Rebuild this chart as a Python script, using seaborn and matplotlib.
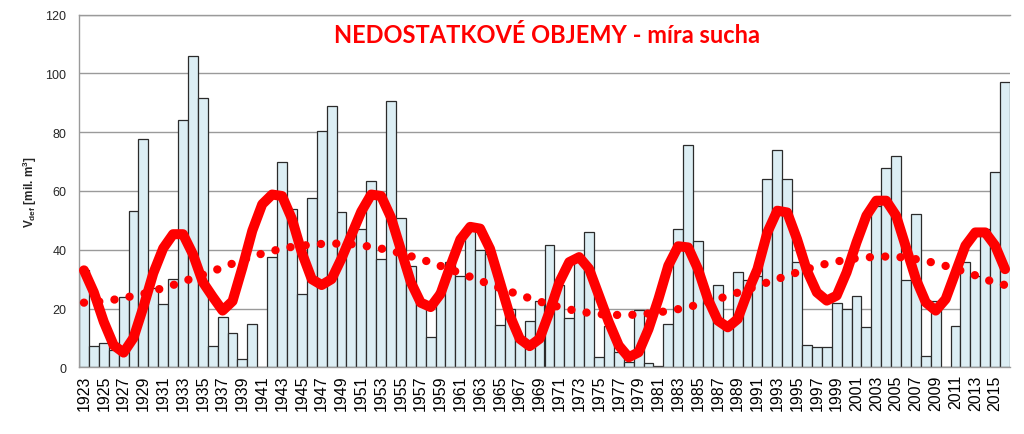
import numpy as np
import pandas as pd
import matplotlib
matplotlib.use("Agg")
import matplotlib.pyplot as plt
import seaborn as sns

years = list(range(1923, 2017))

deficit_volume = [
    33.0, 7.4, 8.2, 6.0, 23.9, 53.3, 77.7, 27.0, 21.7, 30.2,      # 1923-1932
    84.2, 106.0, 91.8, 7.4, 17.0, 11.7, 2.8, 14.7, 0.0, 37.4,     # 1933-1942
    70.0, 54.0, 25.0, 57.6, 80.3, 89.0, 52.7, 45.0, 47.0, 63.5,   # 1943-1952
    36.8, 90.7, 50.7, 34.4, 23.0, 10.4, 26.0, 36.0, 31.0, 47.3,   # 1953-1962
    39.8, 38.4, 14.5, 20.0, 10.0, 15.6, 22.4, 41.7, 28.0, 16.8,   # 1963-1972
    36.0, 46.1, 3.6, 14.2, 5.1, 1.7, 19.6, 1.4, 0.3, 14.7,        # 1973-1982
    47.0, 75.7, 43.0, 22.3, 28.1, 14.0, 32.3, 29.8, 31.0, 64.0,   # 1983-1992
    74.0, 64.0, 35.7, 7.7, 7.0, 7.0, 22.0, 20.0, 24.4, 13.8,      # 1993-2002
    55.0, 67.7, 71.9, 29.7, 52.2, 4.0, 22.7, 0.0, 14.2, 36.0,     # 2003-2012
    31.2, 47.0, 66.6, 97.2,                                       # 2013-2016
]

cyclic_fit = [
    33.0, 25.5, 15.5, 7.5, 5.0, 10.0, 20.5, 32.0, 40.5, 45.3,     # 1923-1932
    45.3, 38.5, 29.0, 24.0, 19.3, 22.5, 34.0, 46.5, 55.5, 58.8,   # 1933-1942
    58.3, 50.5, 39.0, 30.0, 28.0, 30.0, 37.0, 45.0, 53.0, 58.8,   # 1943-1952
    58.3, 51.0, 40.0, 29.0, 22.0, 20.5, 25.0, 34.5, 43.5, 47.8,   # 1953-1962
    47.2, 40.3, 29.0, 17.6, 9.7, 7.2, 9.7, 18.8, 29.0, 35.8,      # 1963-1972
    37.5, 33.5, 24.4, 15.3, 7.4, 3.4, 5.1, 13.0, 23.2, 34.6,      # 1973-1982
    41.2, 40.8, 33.4, 23.2, 15.9, 13.6, 16.4, 25.5, 33.4, 45.9,   # 1983-1992
    53.3, 52.7, 43.6, 32.9, 25.5, 22.7, 24.4, 32.3, 42.5, 51.6,   # 1993-2002
    56.7, 56.7, 51.6, 40.8, 30.0, 22.1, 19.3, 23.2, 32.3, 41.4,   # 2003-2012
    45.9, 45.9, 41.4, 33.4,                                       # 2013-2016
]

trend = [
    22.0, 22.2, 22.5, 23.0, 23.6, 24.3, 25.0, 26.0, 27.0, 28.0,   # 1923-1932
    29.2, 30.3, 31.5, 32.7, 34.0, 35.3, 36.5, 37.7, 38.7, 39.6,   # 1933-1942
    40.3, 41.0, 41.4, 41.7, 42.0, 42.1, 42.1, 41.9, 41.5, 41.0,   # 1943-1952
    40.4, 39.7, 38.8, 37.8, 36.8, 35.7, 34.5, 33.3, 32.0, 30.8,   # 1953-1962
    29.5, 28.2, 27.0, 25.8, 24.6, 23.5, 22.4, 21.4, 20.5, 19.7,   # 1963-1972
    19.0, 18.5, 18.1, 17.9, 17.8, 17.8, 18.0, 18.3, 18.7, 19.2,   # 1973-1982
    19.8, 20.5, 21.3, 22.2, 23.2, 24.3, 25.4, 26.5, 27.7, 28.9,   # 1983-1992
    30.0, 31.2, 32.3, 33.4, 34.4, 35.3, 36.0, 36.6, 37.1, 37.4,   # 1993-2002
    37.6, 37.7, 37.6, 37.3, 36.8, 36.2, 35.4, 34.5, 33.5, 32.4,   # 2003-2012
    31.3, 30.0, 28.8, 28.0,                                       # 2013-2016
]

title_text = "NEDOSTATKOVÉ OBJEMY - míra sucha"
y_ticks = [0, 20, 40, 60, 80, 100, 120]
label_years = years[::2]

sns.set_theme(style="white")
plt.rcParams['font.family'] = ['Liberation Sans', 'DejaVu Sans']
plt.rcParams['mathtext.fontset'] = 'custom'
plt.rcParams['mathtext.rm'] = 'Liberation Sans:bold'
plt.rcParams['mathtext.bf'] = 'Liberation Sans:bold'
plt.rcParams['mathtext.it'] = 'Liberation Sans:bold'

fig = plt.figure(figsize=(10.24, 4.35), dpi=100)
L, R, T, B = 79, 1010, 15.7, 368.3
ax = fig.add_axes([L / 1024, 1 - B / 435, (R - L) / 1024, (B - T) / 435])

df = pd.DataFrame({"year": years, "v": deficit_volume})
sns.barplot(data=df, x="year", y="v", native_scale=True, width=1.0,
            color="#DCEEF4", saturation=1, edgecolor="#2b2b2b",
            linewidth=0.9, ax=ax, zorder=2)

sns.lineplot(x=years, y=trend, color="#FF0000", linewidth=6.0,
             linestyle=(0, (0.01, 1.83)), dash_capstyle="round",
             ax=ax, zorder=3)
sns.lineplot(x=years, y=cyclic_fit, color="#FF0000", linewidth=7.2,
             solid_capstyle="round", solid_joinstyle="round",
             ax=ax, zorder=4)

ax.set_xlim(years[0] - 0.5, years[-1] + 0.5)
ax.set_ylim(0, 120)
ax.set_yticks(y_ticks)
ax.set_yticklabels([str(v) for v in y_ticks], fontsize=9)
ax.set_xticks(label_years)
ax.set_xticklabels([str(y) for y in label_years], rotation=90, fontsize=11.5)
ax.set_xticks([y - 0.5 for y in years] + [years[-1] + 0.5], minor=True)
ax.tick_params(axis='x', which='major', length=0, pad=5, colors='black')
ax.tick_params(axis='x', which='minor', length=5, width=1, color='#8c8c8c')
ax.tick_params(axis='y', which='major', length=4, width=1, color='#8c8c8c', pad=5)

ax.set_axisbelow(True)
ax.yaxis.grid(True, color='#9a9a9a', linewidth=1.0)
ax.xaxis.grid(False)
for side in ['left', 'bottom', 'top']:
    ax.spines[side].set_color('#9a9a9a')
    ax.spines[side].set_linewidth(1.0)
ax.spines['right'].set_visible(False)

ax.set_xlabel("")
ax.set_ylabel(r"V$_{\mathrm{def}}$ [mil. m$^{\mathrm{3}}$]", fontsize=8.5,
              fontweight='bold', labelpad=5)

ax.text(0.503, 0.945, title_text, transform=ax.transAxes, ha='center',
        va='center', color='#FF0000', fontweight='bold', fontsize=17,
        family=['Lato', 'DejaVu Sans'], zorder=6)

fig.savefig("out.png", dpi=100)
